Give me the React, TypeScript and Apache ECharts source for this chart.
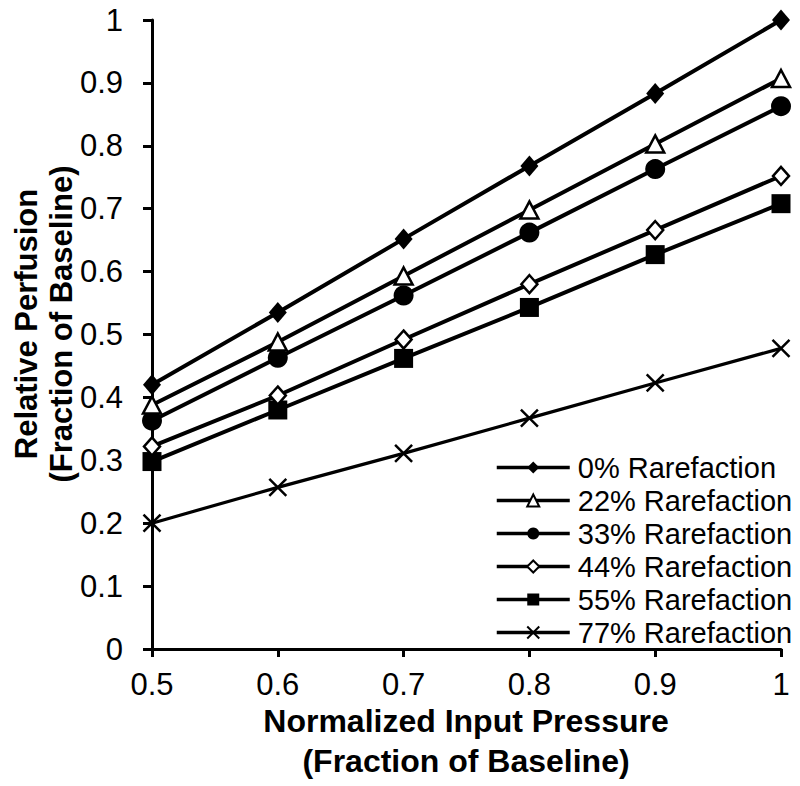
import React, { useEffect, useRef } from "react";
import * as echarts from "echarts";

const pressures = [0.5, 0.6, 0.7, 0.8, 0.9, 1.0];
const seriesNames = [
  "0% Rarefaction",
  "22% Rarefaction",
  "33% Rarefaction",
  "44% Rarefaction",
  "55% Rarefaction",
  "77% Rarefaction",
];
const rare0 = [0.42, 0.535, 0.652, 0.768, 0.883, 1.0];
const rare22 = [0.388, 0.488, 0.593, 0.698, 0.803, 0.907];
const rare33 = [0.363, 0.463, 0.562, 0.662, 0.763, 0.863];
const rare44 = [0.322, 0.403, 0.492, 0.58, 0.666, 0.752];
const rare55 = [0.298, 0.38, 0.462, 0.543, 0.627, 0.708];
const rare77 = [0.2, 0.257, 0.311, 0.367, 0.423, 0.478];

const FONT = "'Liberation Sans', Arial, sans-serif";

export default function App() {
  const ref = useRef<HTMLDivElement>(null);
  useEffect(() => {
    if (!ref.current) return;
    const chart = echarts.init(ref.current, null, { renderer: "svg" });
    const allData = [rare0, rare22, rare33, rare44, rare55, rare77];
    const symbols: any[] = [
      { symbol: "diamond", size: [18, 21], fill: "#000" },
      { symbol: "triangle", size: [18, 17], fill: "#fff" },
      { symbol: "circle", size: 20, fill: "#000" },
      { symbol: "diamond", size: [16, 18], fill: "#fff" },
      { symbol: "rect", size: 19, fill: "#000" },
      { symbol: "path://M0,0L10,10M10,0L0,10", size: 17, fill: "none" },
    ];
    const series = allData.map((d, i) => {
      const s = symbols[i];
      return {
        type: "line",
        name: seriesNames[i],
        data: pressures.map((p, j) => [p, d[j]]),
        symbol: s.symbol,
        symbolSize: s.size,
        showAllSymbol: true,
        lineStyle: { color: "#000", width: i === 5 ? 3.2 : 4 },
        itemStyle: {
          color: s.fill === "none" ? "#000" : s.fill,
          borderColor: "#000",
          borderWidth: s.fill === "#fff" ? 2.5 : i === 5 ? 2.5 : 0,
          opacity: 1,
        },
        z: 10 - i,
      };
    });
    chart.setOption({
      animation: false,
      backgroundColor: "#fff",
      textStyle: { fontFamily: FONT },
      grid: { left: 152, right: 19, top: 20, bottom: 137 },
      xAxis: {
        type: "value",
        min: 0.5,
        max: 1,
        interval: 0.1,
        axisLine: { show: true, lineStyle: { color: "#000", width: 3 } },
        axisTick: { show: true, length: 8, lineStyle: { color: "#000", width: 3 } },
        splitLine: { show: false },
        axisLabel: {
          color: "#000",
          fontSize: 31,
          fontFamily: FONT,
          margin: 20,
          formatter: (v: number) => String(Math.round(v * 10) / 10),
        },
      },
      yAxis: {
        type: "value",
        min: 0,
        max: 1,
        interval: 0.1,
        axisLine: { show: true, lineStyle: { color: "#000", width: 3 } },
        axisTick: { show: true, length: 9, lineStyle: { color: "#000", width: 3 } },
        splitLine: { show: false },
        axisLabel: {
          color: "#000",
          fontSize: 31,
          fontFamily: FONT,
          margin: 29,
          formatter: (v: number) => String(Math.round(v * 10) / 10),
        },
      },
      legend: {
        orient: "vertical",
        left: 495,
        top: 453,
        padding: 0,
        itemWidth: 73,
        itemHeight: 15,
        itemGap: 4,
        lineStyle: { width: 3.5, color: "#000" },
        textStyle: { color: "#000", fontSize: 29, fontFamily: FONT, padding: [0, 0, 0, 3] },
        data: seriesNames,
      },
      graphic: [
        {
          type: "text",
          x: 44,
          y: 324,
          rotation: Math.PI / 2,
          style: {
            text: "Relative Perfusion\n(Fraction of Baseline)",
            font: `bold 31px ${FONT}`,
            fill: "#000",
            align: "center",
            verticalAlign: "middle",
            lineHeight: 35,
          },
        },
        {
          type: "text",
          x: 466,
          y: 721,
          style: {
            text: "Normalized Input Pressure",
            font: `bold 32px ${FONT}`,
            fill: "#000",
            align: "center",
            verticalAlign: "middle",
          },
        },
        {
          type: "text",
          x: 466,
          y: 761,
          style: {
            text: "(Fraction of Baseline)",
            font: `bold 32px ${FONT}`,
            fill: "#000",
            align: "center",
            verticalAlign: "middle",
          },
        },
      ],
      series,
    });
    return () => chart.dispose();
  }, []);
  return <div ref={ref} style={{ width: 800, height: 786, position: "absolute", left: 0, top: 0 }} />;
}
